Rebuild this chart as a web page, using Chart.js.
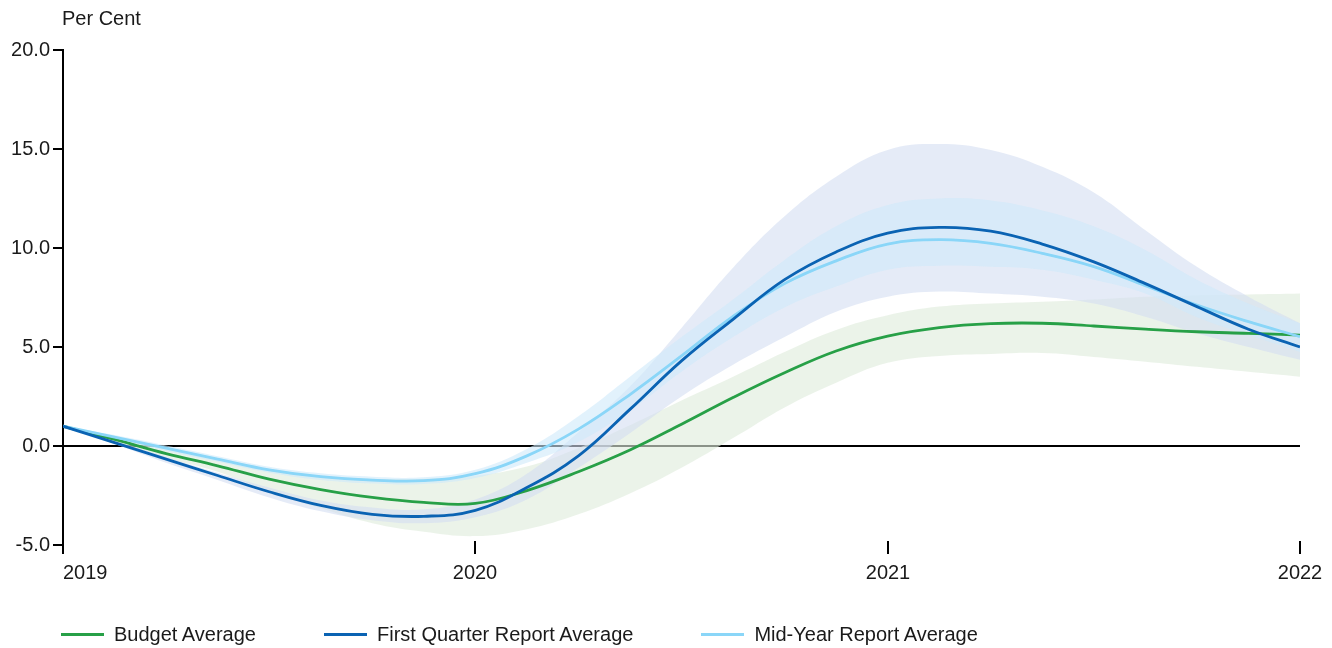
<!DOCTYPE html>
<html>
<head>
<meta charset="utf-8">
<script src="https://cdn.jsdelivr.net/npm/chart.js@4.4.1/dist/chart.umd.min.js"></script>
<style>
  html, body { margin: 0; padding: 0; background: #fff; }
  #wrap { position: relative; width: 1332px; height: 648px; font-family: "Liberation Sans", Arial, sans-serif; color: #1a1a1a; }
  #c { position: absolute; left: 0; top: 0; }
  #unit { position: absolute; left: 62px; top: 8px; font-size: 20px; line-height: 20px; }
  #legend { position: absolute; left: 61px; top: 624px; height: 20px; display: flex; align-items: center; font-size: 20px; line-height: 20px; }
  .item { display: flex; align-items: center; margin-right: 68px; }
  .sw { width: 43px; height: 3px; margin-right: 10px; }
</style>
</head>
<body>
<div id="wrap">
  <canvas id="c" width="1332" height="648"></canvas>
  <div id="unit">Per Cent</div>
  <div id="legend"></div>
</div>
<script>
// ---- data (x positions in years) ----
const years = [2019, 2019.125, 2019.25, 2019.375, 2019.5, 2019.625, 2019.75, 2019.875,
               2020, 2020.125, 2020.25, 2020.375, 2020.5, 2020.625, 2020.75, 2020.875,
               2021, 2021.125, 2021.25, 2021.375, 2021.5, 2021.625, 2021.75, 2021.875, 2022];
const xTickYears = [2019, 2020, 2021, 2022];
const yTicks = [-5, 0, 5, 10, 15, 20];

const budgetAvg = [1.0, 0.33, -0.38, -1.0, -1.67, -2.2, -2.6, -2.85,
                   -2.9, -2.25, -1.3, -0.2, 1.1, 2.45, 3.7, 4.8,
                   5.55, 5.98, 6.18, 6.2, 6.06, 5.9, 5.77, 5.69, 5.6];
const budgetHigh = [1.0, 0.45, -0.15, -0.72, -1.25, -1.5, -1.65, -1.65,
                    -1.5, -1.04, -0.1, 1.05, 2.3, 3.5, 4.75, 5.86,
                    6.6, 7.04, 7.2, 7.29, 7.4, 7.54, 7.6, 7.65, 7.7];
const budgetLow = [1.0, 0.15, -0.6, -1.3, -2.3, -3.15, -3.9, -4.33,
                   -4.55, -4.2, -3.45, -2.4, -1.1, 0.4, 1.95, 3.2,
                   4.2, 4.55, 4.65, 4.7, 4.5, 4.26, 4.0, 3.75, 3.5];

const firstQAvg = [1.0, 0.17, -0.66, -1.49, -2.31, -3.0, -3.45, -3.55,
                   -3.25, -2.1, -0.5, 1.85, 4.3, 6.4, 8.4, 9.8,
                   10.75, 11.04, 10.85, 10.2, 9.3, 8.2, 7.04, 5.9, 5.0];
const firstQHigh = [1.0, 0.25, -0.55, -1.35, -2.1, -2.75, -3.1, -3.2,
                    -2.7, -1.4, 0.7, 3.0, 5.96, 9.0, 11.6, 13.6,
                    14.95, 15.25, 14.95, 14.1, 12.8, 10.9, 9.05, 7.54, 6.2];
const firstQLow = [1.0, 0.1, -0.85, -1.72, -2.6, -3.3, -3.75, -3.9,
                   -3.6, -2.7, -1.1, 0.65, 2.5, 4.1, 5.5, 6.78,
                   7.54, 7.8, 7.7, 7.54, 7.2, 6.53, 5.7, 5.0, 4.35];

const midYearAvg = [1.0, 0.45, -0.11, -0.66, -1.2, -1.55, -1.72, -1.75,
                    -1.4, -0.5, 0.85, 2.6, 4.55, 6.55, 8.2, 9.35,
                    10.2, 10.42, 10.23, 9.73, 9.06, 8.1, 7.12, 6.28, 5.52];
const midYearHigh = [1.0, 0.55, 0.02, -0.52, -1.05, -1.38, -1.55, -1.58,
                     -1.2, -0.15, 1.5, 3.5, 5.5, 7.4, 9.4, 11.1,
                     12.17, 12.5, 12.4, 11.9, 11.1, 9.9, 8.4, 7.2, 6.2];
const midYearLow = [1.0, 0.35, -0.25, -0.8, -1.35, -1.72, -1.9, -1.92,
                    -1.62, -0.85, 0.2, 1.8, 3.75, 5.5, 7.0, 8.05,
                    8.9, 9.1, 9.05, 8.9, 8.4, 7.7, 6.5, 5.6, 4.75];

const seriesNames = ["Budget Average", "First Quarter Report Average", "Mid-Year Report Average"];

// ---- styles ----
const FONT = '"Liberation Sans", Arial, sans-serif';
const TEXT = '#1a1a1a';
const lineColors = ['#27a047', '#0a63b3', '#8ad6f8'];
const bandColors = ['rgba(222,236,219,0.62)', 'rgba(212,222,242,0.6)', 'rgba(207,234,250,0.6)'];
const TENSION = 0.4;

const pts = arr => years.map((x, i) => ({ x: x, y: arr[i] }));

function band(high, low, color, order) {
  return [
    { label: '_hi', data: pts(high), borderWidth: 0, borderColor: 'transparent', backgroundColor: color,
      fill: '+1', pointRadius: 0, order: order, tension: TENSION },
    { label: '_lo', data: pts(low), borderWidth: 0, borderColor: 'transparent', backgroundColor: 'transparent',
      fill: false, pointRadius: 0, order: order, tension: TENSION }
  ];
}
function line(arr, color, name, order) {
  return { label: name, data: pts(arr), borderColor: color, backgroundColor: color, borderWidth: 2.8,
           fill: false, pointRadius: 0, order: order, tension: TENSION };
}

const datasets = [
  ...band(budgetHigh, budgetLow, bandColors[0], 12),
  ...band(firstQHigh, firstQLow, bandColors[1], 11),
  ...band(midYearHigh, midYearLow, bandColors[2], 10),
  line(budgetAvg, lineColors[0], seriesNames[0], 3),
  line(midYearAvg, lineColors[2], seriesNames[2], 2),
  line(firstQAvg, lineColors[1], seriesNames[1], 1)
];

const xAxisPlugin = {
  id: 'xAxisLabels',
  afterDraw(chart) {
    const sx = chart.scales.x, ctx = chart.ctx, bottom = chart.chartArea.bottom;
    ctx.save();
    ctx.strokeStyle = '#000';
    ctx.lineWidth = 2;
    ctx.fillStyle = TEXT;
    ctx.font = '20px ' + FONT;
    ctx.textBaseline = 'middle';
    sx.ticks.forEach((t, i) => {
      const px = Math.round(sx.getPixelForValue(t.value));
      ctx.beginPath();
      ctx.moveTo(px, bottom - 4);
      ctx.lineTo(px, bottom + 9);
      ctx.stroke();
      ctx.textAlign = i === 0 ? 'left' : 'center';
      ctx.fillText(String(t.value), px, bottom + 28);
    });
    ctx.restore();
  }
};

new Chart(document.getElementById('c'), {
  type: 'line',
  data: { datasets: datasets },
  plugins: [xAxisPlugin],
  options: {
    responsive: false,
    animation: false,
    events: [],
    layout: { padding: { top: 50, right: 32, bottom: 73, left: 0 } },
    plugins: { legend: { display: false }, tooltip: { enabled: false } },
    scales: {
      x: {
        type: 'linear',
        min: xTickYears[0],
        max: xTickYears[xTickYears.length - 1],
        afterBuildTicks: s => { s.ticks = xTickYears.map(v => ({ value: v })); },
        afterFit: s => { s.height = 30; },
        grid: { display: false },
        border: { display: false },
        ticks: { display: false }
      },
      y: {
        min: yTicks[0],
        max: yTicks[yTicks.length - 1],
        afterBuildTicks: s => { s.ticks = yTicks.map(v => ({ value: v })); },
        afterFit: s => { s.width = 63; },
        border: { display: true, color: '#000', width: 2 },
        grid: {
          drawOnChartArea: true,
          color: c => (c.tick && c.tick.value === 0 ? '#000' : 'rgba(0,0,0,0)'),
          lineWidth: 2,
          tickColor: '#000',
          tickLength: 10,
          tickWidth: 2
        },
        ticks: {
          color: TEXT,
          font: { family: FONT, size: 20 },
          padding: 3,
          callback: v => Number(v).toFixed(1)
        }
      }
    }
  }
});

// legend
const lg = document.getElementById('legend');
[0, 1, 2].forEach(i => {
  const it = document.createElement('div');
  it.className = 'item';
  const sw = document.createElement('span');
  sw.className = 'sw';
  sw.style.background = lineColors[i];
  const tx = document.createElement('span');
  tx.textContent = seriesNames[i];
  it.appendChild(sw); it.appendChild(tx);
  lg.appendChild(it);
});
</script>
</body>
</html>
